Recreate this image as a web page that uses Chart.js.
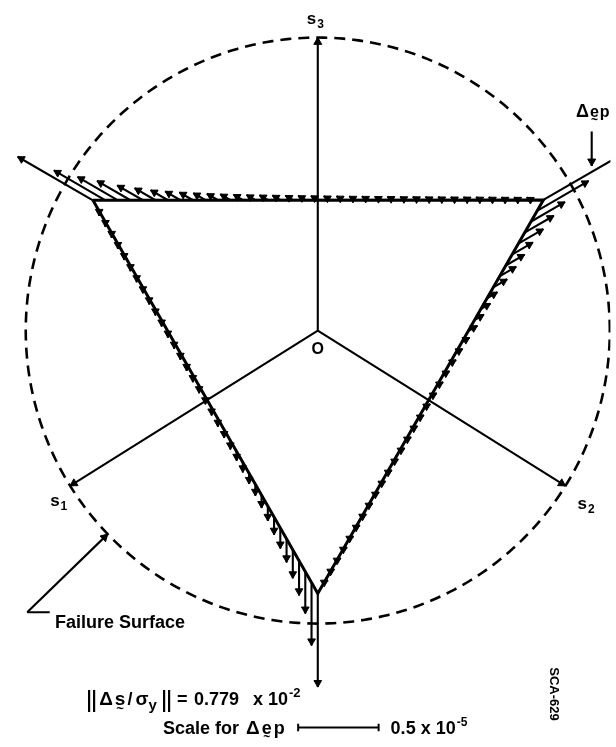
<!DOCTYPE html>
<html>
<head>
<meta charset="utf-8">
<script src="https://cdn.jsdelivr.net/npm/chart.js@4/dist/chart.umd.min.js"></script>
<style>
  html, body { margin: 0; padding: 0; background: #fff; }
  #wrap { position: relative; width: 616px; height: 747px; }
  canvas { display: block; }
</style>
</head>
<body>
<div id="wrap"><canvas id="plane" width="616" height="747"></canvas></div>
<script>
// Deviatoric (pi) plane: origin O, unit length = failure surface radius
const axisNames   = ['s1', 's2', 's3'];
const axisAngles  = [212, 328, 90];          // degrees, counter-clockwise from +x
const axisLengths = [1.0, 1.0, 1.0];
const failureRadius = 1.0;

// Yield surface (triangle) vertices, polar
const yieldVertexAngles = [150, 30, 270];
const yieldVertexRadii  = [0.889, 0.892, 0.897];

// Plastic strain increments |Δe_p| (x 10^-6) at equal steps along each edge,
// first value at the edge's starting vertex
const incTopEdge = [5.4, 3.7, 2.9, 2.4, 1.85, 1.5, 1.25, 1.1, 0.98, 0.88, 0.8, 0.74,
  0.69, 0.65, 0.62, 0.59, 0.56, 0.54, 0.52, 0.5, 0.48, 0.46, 0.45, 0.43,
  0.42, 0.4, 0.39, 0.38, 0.37, 0.36, 0.35, 0.34, 0.33, 0.32, 0.31, 0.3];
const incRightEdge = [5.5, 3.7, 2.45, 2.1, 1.8, 1.5, 1.35, 1.2, 1.0, 0.75, 0.7, 0.68,
  0.66, 0.55, 0.5, 0.48, 0.46, 0.45, 0.44, 0.43, 0.42, 0.41, 0.4, 0.39,
  0.38, 0.37, 0.36, 0.35, 0.34, 0.33, 0.32, 0.31, 0.3, 0.3, 0.29, 0.28];
const incLeftEdge = [5.8, 3.9, 2.6, 2.15, 1.77, 1.46, 1.28, 1.1, 0.92, 0.8, 0.72, 0.66,
  0.62, 0.58, 0.55, 0.52, 0.5, 0.48, 0.46, 0.45, 0.44, 0.42, 0.41, 0.4,
  0.39, 0.38, 0.37, 0.36, 0.35, 0.34, 0.33, 0.32, 0.31, 0.3, 0.3, 0.29];

const stressIncrementNorm = '0.779';   // x 10^-2
const strainScaleBar = 0.5;            // x 10^-5

// ---- view / drawing constants ----
const VIEW = { xMin: -1.069, xMax: 1.002, yMin: -1.402, yMax: 1.109 };
const PX_PER_UNIT = 616 / (VIEW.xMax - VIEW.xMin);
const STRAIN_TO_PLANE = 0.0551;        // plane units per 1e-6 strain
const HEAD_R = 4.4, AXIS_HEAD_R = 4.6;
const FONT = "'Liberation Sans', Arial, sans-serif";

const rad = d => d * Math.PI / 180;
const polar = (a, r) => ({ x: r * Math.cos(rad(a)), y: r * Math.sin(rad(a)) });

function addArrow(from, to, headR, store) {
  const dx = to.x - from.x, dy = to.y - from.y;
  const L = Math.hypot(dx, dy) || 1;
  const ux = dx / L, uy = dy / L, back = headR / PX_PER_UNIT;
  store.lines.push({ x: from.x, y: from.y }, { x: to.x, y: to.y }, { x: to.x, y: null });
  store.heads.push({ x: to.x - ux * back, y: to.y - uy * back });
  store.rot.push(90 - Math.atan2(dy, dx) * 180 / Math.PI);
}

// failure surface circle
const circle = [];
for (let a = 0; a <= 360; a += 1) circle.push(polar(a, failureRadius));

// yield triangle
const V = yieldVertexAngles.map((a, i) => polar(a, yieldVertexRadii[i]));
const triangle = [V[0], V[1], V[2], V[0]];

// strain increment arrows along the edges
const inc = { lines: [], heads: [], rot: [] };
[[0, 1, incTopEdge], [1, 2, incRightEdge], [2, 0, incLeftEdge]].forEach(([i, j, vals]) => {
  const A = V[i], B = V[j], dir = rad(yieldVertexAngles[i]);
  vals.forEach((v, k) => {
    const t = k / vals.length;
    const base = { x: A.x + (B.x - A.x) * t, y: A.y + (B.y - A.y) * t };
    const L = v * STRAIN_TO_PLANE;
    addArrow(base, { x: base.x + Math.cos(dir) * L, y: base.y + Math.sin(dir) * L }, HEAD_R, inc);
  });
});

// principal axes, leader lines
const ax = { lines: [], heads: [], rot: [] };
axisAngles.forEach((a, i) => addArrow({ x: 0, y: 0 }, polar(a, axisLengths[i]), AXIS_HEAD_R, ax));
const leaderStart = { x: -0.918, y: -0.961 }, leaderKnee = { x: -0.995, y: -0.961 };
addArrow(leaderKnee, polar(224, failureRadius), AXIS_HEAD_R, ax);
const leaderFoot = [leaderStart, leaderKnee];
addArrow({ x: 0.938, y: 0.679 }, { x: 0.938, y: 0.562 }, AXIS_HEAD_R, ax);

// scale bar for Δe_p
const barY = -1.3546, barX0 = -0.0672;
const barX1 = barX0 + strainScaleBar * 10 * STRAIN_TO_PLANE;
const tick = 0.013;
const scaleBar = [
  { x: barX0, y: barY - tick }, { x: barX0, y: barY + tick }, { x: barX0, y: null },
  { x: barX0, y: barY }, { x: barX1, y: barY }, { x: barX1, y: null },
  { x: barX1, y: barY - tick }, { x: barX1, y: barY + tick }
];

const lineDs = (data, width, extra) => Object.assign({
  data, showLine: true, borderColor: '#000', borderWidth: width,
  pointRadius: 0, fill: false, spanGaps: false, tension: 0
}, extra || {});
const headDs = (store, r, order) => ({
  data: store.heads, showLine: false, pointStyle: 'triangle', pointRadius: r,
  pointBackgroundColor: '#000', pointBorderColor: '#000', pointBorderWidth: 1,
  pointRotation: ctx => store.rot[ctx.dataIndex], order
});

// rich text: parts placed one after another, or at an absolute x
function run(ctx, x, y, parts) {
  parts.forEach(p => {
    if (p.at !== undefined) x = p.at;
    if (p.bars) {               // norm bars ‖
      ctx.fillRect(x, y - p.bars[0], 2.2, p.bars[0] + p.bars[1]);
      ctx.fillRect(x + 5, y - p.bars[0], 2.2, p.bars[0] + p.bars[1]);
      x += 7.2 + (p.sp || 0);
      return;
    }
    ctx.font = p.f;
    ctx.fillText(p.t, x, y + (p.dy || 0));
    const w = ctx.measureText(p.t).width;
    if (p.tilde !== undefined) {
      ctx.font = p.tf;
      const tw = ctx.measureText('~').width;
      ctx.fillText('~', x + (w - tw) / 2, y + p.tilde);
    }
    x += w + (p.sp || 0);
  });
  return x;
}

const labelsPlugin = {
  id: 'planeLabels',
  beforeDraw(chart) {
    const c = chart.ctx;
    c.save(); c.fillStyle = '#fff'; c.fillRect(0, 0, chart.width, chart.height); c.restore();
  },
  afterDatasetsDraw(chart) {
    const c = chart.ctx, X = chart.scales.x, Y = chart.scales.y;
    const px = p => ({ x: X.getPixelForValue(p.x), y: Y.getPixelForValue(p.y) });
    c.save();
    c.fillStyle = '#000';
    c.textBaseline = 'alphabetic';
    c.textAlign = 'left';
    const big = `bold 17px ${FONT}`, sub = `bold 12px ${FONT}`;
    const offs = [[-20, 20], [12, 23], [-11, -14]];
    axisNames.forEach((n, i) => {
      const e = px(polar(axisAngles[i], axisLengths[i]));
      run(c, e.x + offs[i][0], e.y + offs[i][1], [
        { t: n[0], f: big, sp: 1 }, { t: n.slice(1), f: sub, dy: 4 }
      ]);
    });
    const o = px({ x: 0, y: 0 });
    c.font = `bold 16px ${FONT}`; c.textAlign = 'center';
    c.fillText('O', o.x, o.y + 23);
    c.textAlign = 'left';

    // Δe_p tag
    run(c, 576, 117, [
      { t: 'Δ', f: `bold 18px ${FONT}`, sp: 1 },
      { t: 'e', f: `bold 16px ${FONT}`, tilde: 7, tf: `bold 12px ${FONT}`, sp: 1 },
      { t: 'p', f: `bold 16px ${FONT}` }
    ]);

    c.font = `bold 18px ${FONT}`;
    c.fillText('Failure Surface', 55, 628);

    // stress increment norm
    const f18 = `bold 18px ${FONT}`;
    run(c, 88, 705, [
      { bars: [15, 7], sp: 4 },
      { t: 'Δ', f: `bold 19px ${FONT}`, sp: 2 },
      { t: 's', f: `bold 19px ${FONT}`, tilde: 8, tf: `bold 13px ${FONT}`, sp: 2 },
      { t: '/', f: f18, sp: 3 },
      { t: 'σ', f: `bold 19px ${FONT}` },
      { t: 'y', f: `bold 15px ${FONT}`, dy: 5 },
      { at: 163, bars: [15, 7] },
      { at: 177, t: '=', f: f18 },
      { at: 194, t: stressIncrementNorm, f: f18 },
      { at: 253, t: 'x', f: f18 },
      { at: 268, t: '10', f: f18, sp: 1 },
      { t: '-2', f: `bold 13px ${FONT}`, dy: -8 }
    ]);

    // scale legend
    const by = Y.getPixelForValue(barY);
    run(c, 163, by + 6, [
      { t: 'Scale for ', f: `bold 18px ${FONT}`, sp: 2 },
      { t: 'Δ', f: `bold 19px ${FONT}`, sp: 2 },
      { t: 'e', f: `bold 18px ${FONT}`, tilde: 7, tf: `bold 12px ${FONT}`, sp: 2 },
      { t: 'p', f: `bold 18px ${FONT}` }
    ]);
    run(c, X.getPixelForValue(barX1) + 12, by + 6, [
      { t: String(strainScaleBar) + ' x 10', f: `bold 18px ${FONT}`, sp: 1 },
      { t: '-5', f: `bold 12px ${FONT}`, dy: -8 }
    ]);

    // drawing number
    c.translate(555, 694);
    c.rotate(Math.PI / 2);
    c.font = `bold 13px ${FONT}`;
    c.textAlign = 'center';
    c.fillText('SCA-629', 0, 5);
    c.restore();
  }
};

new Chart(document.getElementById('plane'), {
  type: 'scatter',
  data: {
    datasets: [
      lineDs(triangle, 3, { order: 1 }),
      lineDs(inc.lines, 2.1, { order: 3 }),
      headDs(inc, HEAD_R, 2),
      lineDs(ax.lines, 2.1, { order: 4 }),
      headDs(ax, AXIS_HEAD_R, 4),
      lineDs(leaderFoot, 2, { order: 4 }),
      lineDs(scaleBar, 2, { order: 4 }),
      lineDs(circle, 2.6, { borderDash: [11, 7], order: 5 })
    ]
  },
  options: {
    responsive: false,
    animation: false,
    devicePixelRatio: 1,
    events: [],
    layout: { padding: 0 },
    plugins: { legend: { display: false }, tooltip: { enabled: false } },
    scales: {
      x: { type: 'linear', min: VIEW.xMin, max: VIEW.xMax, display: false },
      y: { type: 'linear', min: VIEW.yMin, max: VIEW.yMax, display: false }
    }
  },
  plugins: [labelsPlugin]
});
</script>
</body>
</html>
